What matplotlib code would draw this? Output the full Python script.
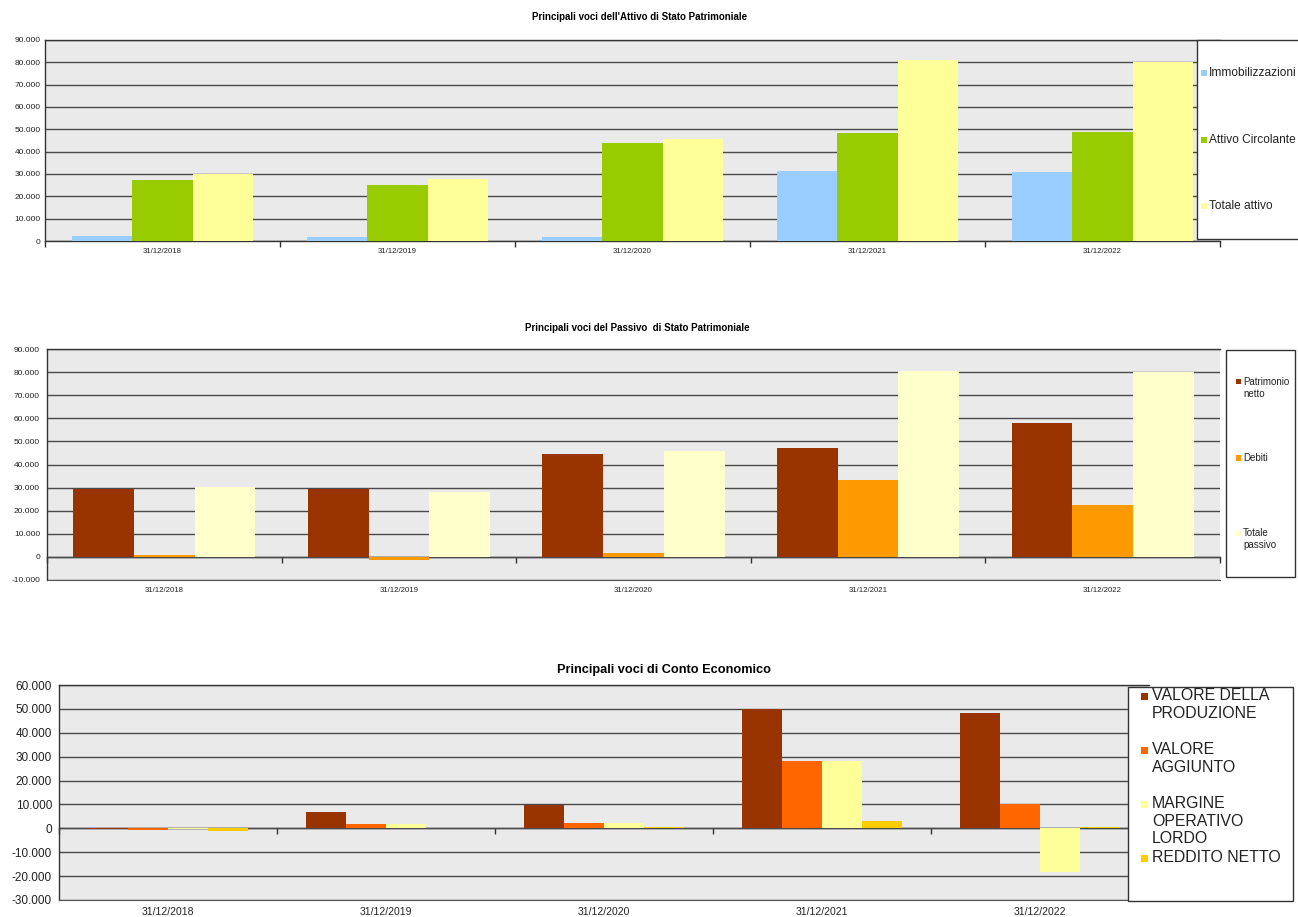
import matplotlib
matplotlib.use("Agg")
import matplotlib.pyplot as plt
import numpy as np
from matplotlib.patches import Rectangle
from matplotlib.ticker import FuncFormatter, MultipleLocator

W, H = 1298, 917

dates = ["31/12/2018", "31/12/2019", "31/12/2020", "31/12/2021", "31/12/2022"]

# Attivo
attivo_labels = ["Immobilizzazioni", "Attivo Circolante", "Totale attivo"]
immobilizzazioni = [2200, 1800, 1700, 31300, 31000]
attivo_circolante = [27300, 25000, 43900, 48400, 48700]
totale_attivo = [30000, 27800, 45700, 81000, 80100]

# Passivo
passivo_labels = ["Patrimonio\nnetto", "Debiti", "Totale\npassivo"]
patrimonio_netto = [29300, 29300, 44600, 47200, 57900]
debiti = [1000, -1300, 1700, 33300, 22400]
totale_passivo = [30300, 28100, 45900, 80500, 80000]

# Conto economico
ce_labels = ["VALORE DELLA\nPRODUZIONE", "VALORE\nAGGIUNTO",
             "MARGINE\nOPERATIVO\nLORDO", "REDDITO NETTO"]
valore_produzione = [-100, 6800, 9900, 49800, 48300]
valore_aggiunto = [-500, 2000, 2300, 28200, 10100]
margine_operativo_lordo = [-300, 2000, 2300, 28200, -18300]
reddito_netto = [-1100, 300, 500, 3000, 400]

plt.rcParams["font.family"] = ["Liberation Sans", "DejaVu Sans"]

fig = plt.figure(figsize=(W / 100, H / 100), dpi=100)


def fx(x):
    return x / W


def fy(y):
    return 1 - y / H


def add_ax(left, top, right, bottom):
    return fig.add_axes([fx(left), fy(bottom), (right - left) / W, (bottom - top) / H])


def fmt(v, pos):
    if v == 0:
        return "0"
    return f"{v:,.0f}".replace(",", ".")


def bar_panel(ax, series, colors, width, ylim, tick_fs, xlab_fs, ypad):
    x = np.arange(len(dates)) + 0.5
    n = len(series)
    for i, (vals, c) in enumerate(zip(series, colors)):
        off = (i - (n - 1) / 2) * width
        ax.bar(x + off, vals, width=width, color=c, linewidth=0, zorder=2)
    ax.set_xlim(0, len(dates))
    ax.set_ylim(*ylim)
    ax.set_facecolor("#eaeaea")
    ax.yaxis.set_major_locator(MultipleLocator(10000))
    ax.yaxis.set_major_formatter(FuncFormatter(fmt))
    ax.grid(axis="y", color="#4a4a4a", linewidth=1.0, zorder=1)
    ax.set_axisbelow(True)
    ax.tick_params(axis="y", length=0, pad=ypad, labelsize=tick_fs, labelcolor="#222222")
    ax.set_xticks(x)
    ax.set_xticklabels(dates, fontsize=xlab_fs, color="#222222")
    ax.tick_params(axis="x", length=0, pad=5)
    for s in ["top", "left"]:
        ax.spines[s].set_color("#333333")
        ax.spines[s].set_linewidth(1.0)
    ax.spines["right"].set_visible(False)
    # zero line with category boundary ticks
    lo, hi = ylim
    zero = (0 - lo) / (hi - lo)
    sec = ax.secondary_xaxis(zero)
    sec.set_xticks(np.arange(len(dates) + 1))
    sec.set_xticklabels([])
    sec.tick_params(direction="out", length=4, width=1, color="#333333")
    sec.spines["bottom"].set_color("#333333")
    sec.spines["bottom"].set_linewidth(1.0)
    if zero == 0:
        ax.spines["bottom"].set_visible(False)
    else:
        ax.spines["bottom"].set_color("#555555")


def legend_box(box, labels, colors, fs, mx, tx, ys, msize):
    l, t, r, b = box
    fig.patches.append(Rectangle((fx(l), fy(b)), (r - l) / W, (b - t) / H,
                                 transform=fig.transFigure, facecolor="white",
                                 edgecolor="#333333", linewidth=1.0, zorder=5))
    for lab, c, (ym, yc) in zip(labels, colors, ys):
        fig.patches.append(Rectangle((fx(mx), fy(ym + msize / 2)), msize / W, msize / H,
                                     transform=fig.transFigure, facecolor=c,
                                     linewidth=0, zorder=6))
        fig.text(fx(tx), fy(yc), lab, fontsize=fs, ha="left", va="center",
                 color="#222222", zorder=7)


# Chart 1
ax1 = add_ax(45, 40, 1220, 241)
bar_panel(ax1, [immobilizzazioni, attivo_circolante, totale_attivo],
          ["#99ccff", "#99cc00", "#ffff99"], 0.257, (0, 90000), 6, 5.6, 3)
fig.text(fx(640), fy(17), "Principali voci dell'Attivo di Stato Patrimoniale",
         fontsize=7, fontweight="bold", ha="center", va="center")
legend_box((1197, 40, 1320, 239), attivo_labels, ["#99ccff", "#99cc00", "#ffff99"],
           8.6, 1201, 1209, [(73, 73), (140, 140), (206, 206)], 6)

# Chart 2
ax2 = add_ax(47, 349, 1220, 580)
bar_panel(ax2, [patrimonio_netto, debiti, totale_passivo],
          ["#993300", "#ff9900", "#ffffcc"], 0.259, (-10000, 90000), 6, 5.6, 5)
fig.text(fx(637), fy(328), "Principali voci del Passivo  di Stato Patrimoniale",
         fontsize=7, fontweight="bold", ha="center", va="center")
legend_box((1226, 350, 1295, 577), passivo_labels, ["#993300", "#ff9900", "#ffffcc"],
           7, 1236, 1243, [(382, 388), (458, 458), (533, 539)], 5)

# Chart 3
ax3 = add_ax(59, 685, 1149, 900)
bar_panel(ax3, [valore_produzione, valore_aggiunto, margine_operativo_lordo, reddito_netto],
          ["#993300", "#ff6600", "#ffff99", "#ffcc00"], 0.183, (-30000, 60000), 8.5, 7.5, 5)
fig.text(fx(664), fy(670), "Principali voci di Conto Economico",
         fontsize=9.2, fontweight="bold", ha="center", va="center")
legend_box((1128, 687, 1293, 901), ce_labels,
           ["#993300", "#ff6600", "#ffff99", "#ffcc00"],
           11.4, 1141, 1152, [(696, 704.5), (750, 758.5), (804, 821), (858, 858)], 7)

fig.savefig("out.png", dpi=100)
